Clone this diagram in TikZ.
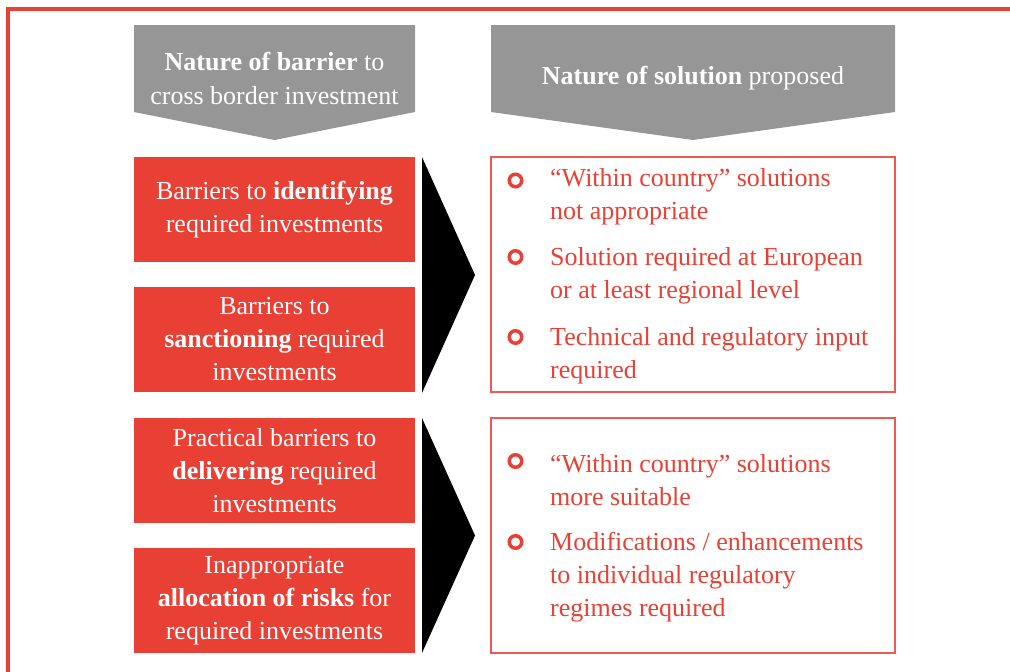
\documentclass[tikz,border=0pt]{standalone}
\usepackage{fontspec}
\setmainfont{Liberation Serif}
\definecolor{brandred}{HTML}{E84034}
\definecolor{linered}{HTML}{EE5A52}
\definecolor{headgrey}{HTML}{969696}
\begin{document}
\begin{tikzpicture}[x=1pt,y=-1pt,
  redbox/.style={fill=brandred,minimum width=281pt,minimum height=105pt,inner sep=0pt,
    text=white,align=center,font=\fontsize{26}{33}\selectfont},
  solbox/.style={draw=linered,line width=1.3pt,minimum width=404pt,minimum height=235pt,inner sep=0pt},
  headtext/.style={text=white,align=center,font=\fontsize{26}{34}\selectfont},
  soltext/.style={anchor=west,text=brandred,align=left,inner sep=0pt,font=\fontsize{26}{33}\selectfont},
  ring/.style={draw=brandred,line width=3.5pt,circle,minimum size=12.5pt,inner sep=0pt},
  headshape/.style={fill=headgrey},
  pointer/.style={fill=black}]
\useasboundingbox (0,0) rectangle (1010,672);

% outer frame: top and left rules
\draw[brandred,line width=4pt] (6,8.5) -- (1010,8.5);
\draw[brandred,line width=4pt] (8,6.5) -- (8,672);

% column headers
\fill[headshape] (134,25) -- (415,25) -- (415,112) -- (274.5,140) -- (134,112) -- cycle;
\node[headtext] (hbarrier) at (274.5,78) {\textbf{Nature of barrier} to\\cross border investment};
\fill[headshape] (491,25) -- (895,25) -- (895,112) -- (693,140) -- (491,112) -- cycle;
\node[headtext] (hsolution) at (693,78) {\textbf{Nature of solution} proposed};

% barrier boxes
\node[redbox] (b1) at (274.5,209.5) {Barriers to \textbf{identifying}\\required investments};
\node[redbox] (b2) at (274.5,339.5) {Barriers to\\\textbf{sanctioning} required\\investments};
\node[redbox] (b3) at (274.5,470.5) {Practical barriers to\\\textbf{delivering} required\\investments};
\node[redbox] (b4) at (274.5,600.5) {Inappropriate\\\textbf{allocation of risks} for\\required investments};

% pointers between the columns
\fill[pointer] (422,157) -- (475,275) -- (422,393) -- cycle;
\fill[pointer] (422,418) -- (475,535.5) -- (422,653) -- cycle;

% solution boxes
\node[solbox] (s1) at (693,274.5) {};
\node[solbox] (s2) at (693,535.5) {};

% first solution box items
\node[ring] (r11) at (515.5,180.5) {};
\node[soltext] (t11) at (550,197) {``Within country'' solutions\\not appropriate};
\node[ring] (r12) at (515.5,257) {};
\node[soltext] (t12) at (550,276) {Solution required at European\\or at least regional level};
\node[ring] (r13) at (515.5,337) {};
\node[soltext] (t13) at (550,356) {Technical and regulatory input\\required};

% second solution box items
\node[ring] (r21) at (515.5,461) {};
\node[soltext] (t21) at (550,480) {``Within country'' solutions\\more suitable};
\node[ring] (r22) at (515.5,542) {};
\node[soltext] (t22) at (550,577.5) {Modifications / enhancements\\to individual regulatory\\regimes required};
\end{tikzpicture}
\end{document}
